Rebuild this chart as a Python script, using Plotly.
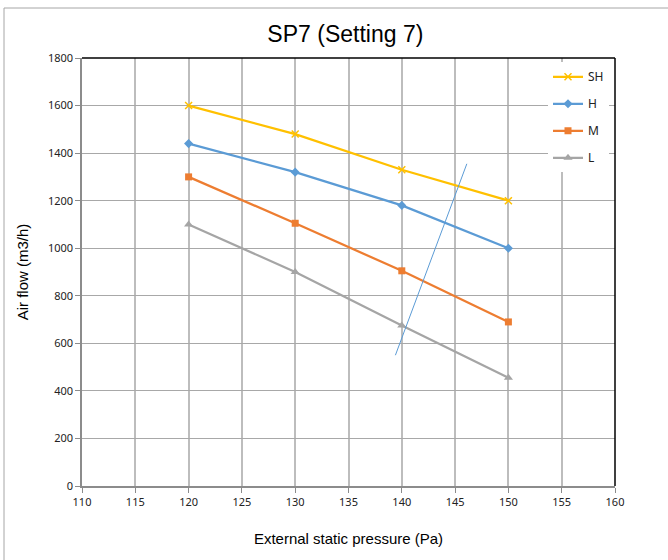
import plotly.graph_objects as go

# Fan curve data: air flow vs external static pressure
pressure = [120, 130, 140, 150]
flow_sh = [1600, 1480, 1330, 1200]
flow_h = [1440, 1320, 1180, 1000]
flow_m = [1300, 1105, 905, 690]
flow_l = [1100, 900, 675, 455]

# System resistance line
sys_x = [139.4, 146.1]
sys_y = [550, 1355]

x_ticks = [110, 115, 120, 125, 130, 135, 140, 145, 150, 155, 160]
y_ticks = [0, 200, 400, 600, 800, 1000, 1200, 1400, 1600, 1800]

series = [
    ("SH", flow_sh, "#FFC000", dict(symbol="x-thin", size=7, line=dict(width=1.5, color="#FFC000"))),
    ("H", flow_h, "#5B9BD5", dict(symbol="diamond", size=7)),
    ("M", flow_m, "#ED7D31", dict(symbol="square", size=7)),
    ("L", flow_l, "#A5A5A5", dict(symbol="triangle-up", size=8)),
]

fig = go.Figure()
for name, vals, color, marker in series:
    fig.add_trace(go.Scatter(
        x=pressure, y=vals, name=name, mode="lines+markers",
        line=dict(color=color, width=2.25),
        marker=dict(color=color, **marker),
        legendgroup=name,
    ))

fig.add_trace(go.Scatter(
    x=sys_x, y=sys_y, mode="lines", showlegend=False,
    line=dict(color="#5B9BD5", width=1), hoverinfo="skip",
))

# Plot area geometry in pixels
L, R, T, B = 82, 615, 58, 486
PW, PH = R - L, B - T

# Black top/right frame of the plot area
fig.add_shape(type="line", xref="paper", yref="paper", x0=0, x1=1, y0=1, y1=1,
              line=dict(color="black", width=1.5), layer="above")
fig.add_shape(type="line", xref="paper", yref="paper", x0=1, x1=1, y0=0, y1=1,
              line=dict(color="black", width=1.5), layer="above")
# Outer chart border
fig.add_shape(type="rect", xref="paper", yref="paper",
              x0=(4 - L) / PW, x1=(675 - L) / PW,
              y0=(B - 570) / PH, y1=(B - 8) / PH,
              line=dict(color="#A6A6A6", width=1))

fig.update_layout(
    width=668, height=560,
    margin=dict(l=L, r=668 - R, t=T, b=560 - B),
    paper_bgcolor="white", plot_bgcolor="white",
    title=dict(text="SP7 (Setting 7)", x=0.517, xanchor="center", y=0.94, yanchor="middle",
               font=dict(family="Liberation Sans, Arial", size=23, color="black")),
    font=dict(family="Noto Sans, Open Sans", color="#222"),
    showlegend=True,
    legend=dict(x=(548 - L) / PW, y=0.99, xanchor="left", yanchor="top",
                bgcolor="white", font=dict(size=12, color="#222"),
                tracegroupgap=8, itemwidth=30),
    xaxis=dict(
        range=[110, 160], tickvals=x_ticks, ticktext=[str(t) for t in x_ticks],
        showgrid=True, gridcolor="#BDBDBD", gridwidth=1.5,
        showline=True, linecolor="#8C8C8C", linewidth=1.5,
        ticks="outside", ticklen=5, tickcolor="#8C8C8C",
        tickfont=dict(size=11, color="#222"), zeroline=False,
        title=dict(text="External static pressure (Pa)",
                   font=dict(family="Liberation Sans, Arial", size=15, color="black"), standoff=26),
    ),
    yaxis=dict(
        range=[0, 1800], tickvals=y_ticks, ticktext=[str(t) for t in y_ticks],
        showgrid=True, gridcolor="#A8A8A8", gridwidth=1.2,
        showline=True, linecolor="#8C8C8C", linewidth=1.5,
        ticks="outside", ticklen=5, tickcolor="#8C8C8C",
        tickfont=dict(size=11, color="#222"), zeroline=False,
        title=dict(text="Air flow (m3/h)",
                   font=dict(family="Liberation Sans, Arial", size=15, color="black"), standoff=16),
    ),
)

fig.write_html("out.html")
